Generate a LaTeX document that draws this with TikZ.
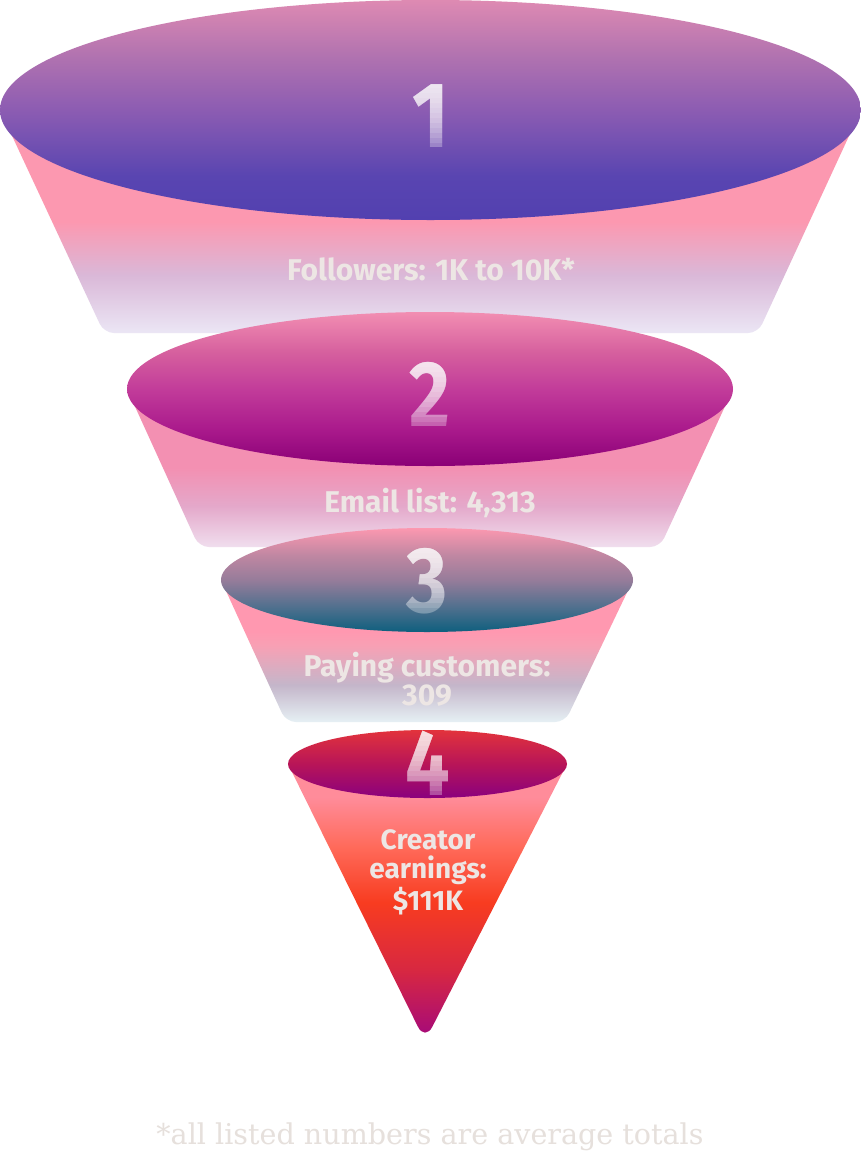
\documentclass[tikz,border=0pt]{standalone}
\usepackage{fontspec}
\usetikzlibrary{positioning}
\newfontfamily\numfont[FakeStretch=0.85]{Fira Sans}
\newfontfamily\labfont{Fira Sans}
\newfontfamily\notefont{DejaVu Serif}

\definecolor{labgray}{HTML}{EDE6E4}
\definecolor{notegray}{HTML}{E6E0DC}
% tier 1
\definecolor{ta1}{HTML}{5240B0}\definecolor{ta2}{HTML}{5945B1}\definecolor{ta3}{HTML}{8C5CB2}
\definecolor{ta4}{HTML}{B072B0}\definecolor{ta5}{HTML}{DE8AB2}
\definecolor{ba1}{HTML}{EBE6F5}\definecolor{ba2}{HTML}{DAB8D8}\definecolor{ba3}{HTML}{FC98B0}
% tier 2
\definecolor{tb1}{HTML}{8A0076}\definecolor{tb2}{HTML}{AA1A8C}\definecolor{tb3}{HTML}{C23C9A}
\definecolor{tb4}{HTML}{D6609E}\definecolor{tb5}{HTML}{F28EB2}
\definecolor{bb1}{HTML}{F0DEEE}\definecolor{bb2}{HTML}{E4A8CA}\definecolor{bb3}{HTML}{F390B2}
% tier 3
\definecolor{tc1}{HTML}{0E5F7E}\definecolor{tc2}{HTML}{50708E}\definecolor{tc3}{HTML}{967C9A}
\definecolor{tc4}{HTML}{C087A2}\definecolor{tc5}{HTML}{FC98B0}
\definecolor{bc1}{HTML}{E6F0F4}\definecolor{bc2}{HTML}{C4B6CA}\definecolor{bc3}{HTML}{F8A0B4}
\definecolor{bc4}{HTML}{FF98B0}
% tier 4
\definecolor{td1}{HTML}{8A007E}\definecolor{td2}{HTML}{B81558}\definecolor{td3}{HTML}{E2333C}
\definecolor{bd1}{HTML}{A2087E}\definecolor{bd2}{HTML}{D82840}\definecolor{bd3}{HTML}{F83C20}
\definecolor{bd4}{HTML}{FF6A5A}\definecolor{bd5}{HTML}{FF8C9A}

\pgfdeclareverticalshading{topA}{100bp}{color(0bp)=(ta1); color(25bp)=(ta1); color(35bp)=(ta2); color(50bp)=(ta3); color(62bp)=(ta4); color(75bp)=(ta5); color(100bp)=(ta5)}
\pgfdeclareverticalshading{bodyA}{100bp}{color(0bp)=(ba1); color(25bp)=(ba1); color(38bp)=(ba2); color(50bp)=(ba3); color(100bp)=(ba3)}
\pgfdeclareverticalshading{topB}{100bp}{color(0bp)=(tb1); color(25bp)=(tb1); color(37bp)=(tb2); color(50bp)=(tb3); color(62bp)=(tb4); color(75bp)=(tb5); color(100bp)=(tb5)}
\pgfdeclareverticalshading{bodyB}{100bp}{color(0bp)=(bb1); color(25bp)=(bb1); color(38bp)=(bb2); color(50bp)=(bb3); color(100bp)=(bb3)}
\pgfdeclareverticalshading{topC}{100bp}{color(0bp)=(tc1); color(25bp)=(tc1); color(37bp)=(tc2); color(50bp)=(tc3); color(62bp)=(tc4); color(75bp)=(tc5); color(100bp)=(tc5)}
\pgfdeclareverticalshading{bodyC}{100bp}{color(0bp)=(bc1); color(25bp)=(bc1); color(38bp)=(bc2); color(52bp)=(bc3); color(57bp)=(bc4); color(100bp)=(bc4)}
\pgfdeclareverticalshading{topD}{100bp}{color(0bp)=(td1); color(25bp)=(td1); color(50bp)=(td2); color(75bp)=(td3); color(100bp)=(td3)}
\pgfdeclareverticalshading{bodyD}{100bp}{color(0bp)=(bd1); color(25bp)=(bd1); color(38bp)=(bd2); color(50bp)=(bd3); color(60bp)=(bd4); color(69bp)=(bd5); color(100bp)=(bd5)}

% big tier number, fading out towards its foot
\newcommand\tiernum[4]{%
  \node[num, text opacity=0.3] (#1) at (#2,#3) {#4};
  \foreach \k in {1,...,12}{
    \begin{scope}
      \clip ({#2-45},{#3-75}) rectangle ({#2+45},{#3-64+64*(13-\k)/13});
      \node[num, text opacity=0.12] (#1-\k) at (#2,#3) {#4};
    \end{scope}}}

\begin{document}
\begin{tikzpicture}[x=1pt,y=-1pt,node distance=30pt,on grid,
    num/.style={inner sep=0pt,anchor=base,text=white,
      font=\numfont\bfseries\fontsize{93pt}{93pt}\selectfont},
    lab/.style={inner sep=0pt,anchor=base,text=labgray,
      font=\labfont\bfseries\fontsize{30pt}{30pt}\selectfont},
    earn/.style={inner sep=0pt,anchor=base,text=labgray,
      font=\labfont\bfseries\fontsize{28pt}{28pt}\selectfont}]
  \useasboundingbox[fill=white] (0,0) rectangle (861,1152);

  % tier 1
  \shade[shading=bodyA] (0,110) [rounded corners=10]-- (104,333) -- (758,333) [sharp corners]-- (861,110) -- cycle;
  \shade[shading=topA] (430.5,110) ellipse [x radius=430.5, y radius=110];
  % tier 2
  \shade[shading=bodyB] (127,389) [rounded corners=10]-- (199,547) -- (660,547) [sharp corners]-- (733,389) -- cycle;
  \shade[shading=topB] (430,389) ellipse [x radius=303, y radius=77];
  % tier 3
  \shade[shading=bodyC] (221,580) [rounded corners=10]-- (286,722) -- (565,722) [sharp corners]-- (633,580) -- cycle;
  \shade[shading=topC] (427,580) ellipse [x radius=206, y radius=52];
  % tier 4
  \shade[shading=bodyD] (288,764) [rounded corners=16]-- (425,1041) [sharp corners]-- (567,764) -- cycle;
  \shade[shading=topD] (427.5,764) ellipse [x radius=139.5, y radius=34];

  \tiernum{one}{431}{147}{1}
  \tiernum{two}{430}{426}{2}
  \tiernum{three}{427}{612}{3}
  \tiernum{four}{428}{795}{4}

  \node[below=133pt of one.base, lab] (followers) {Followers: 1K to 10K*};
  \node[below=86pt of two.base, lab] (email) {Email list: 4,313};
  \node[below=64pt of three.base, lab] (paying) {Paying customers:};
  \node[below=29pt of paying.base, lab] (payingnum) {309};
  \node[below=54pt of four.base, earn] (creator) {Creator};
  \node[below=29pt of creator.base, earn] (earnings) {earnings:};
  \node[below=32pt of earnings.base, earn] (earningsnum) {\$111K};

  \node[anchor=base, inner sep=0pt, text=notegray, font=\notefont\fontsize{28.6pt}{28.6pt}\selectfont] (note) at (430,1144) {*all listed numbers are average totals};
\end{tikzpicture}
\end{document}
